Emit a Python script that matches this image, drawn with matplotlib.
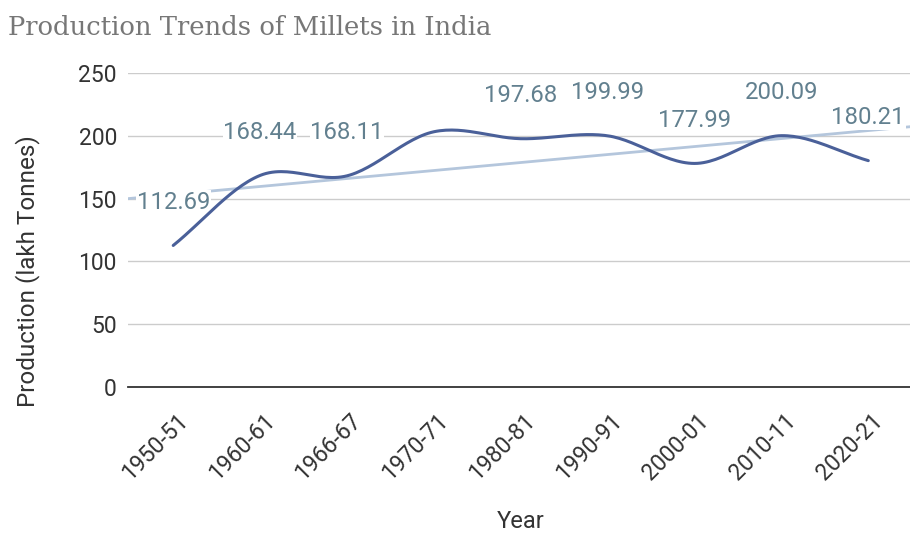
import numpy as np
import matplotlib.pyplot as plt

years = ['1950-51', '1960-61', '1966-67', '1970-71', '1980-81',
         '1990-91', '2000-01', '2010-11', '2020-21']
production = [112.69, 168.44, 168.11, 203.2, 197.68, 199.99, 177.99, 200.09, 180.21]
# the 1970-71 point has no label in the chart
labels = ['112.69', '168.44', '168.11', None, '197.68',
          '199.99', '177.99', '200.09', '180.21']
yticks = [0, 50, 100, 150, 200, 250]

plt.rcParams['font.family'] = ['Roboto', 'DejaVu Sans']

fig = plt.figure(figsize=(9.1, 5.35), dpi=100)
ax = fig.add_axes([0.1407, 0.2766, 0.8593, 0.587])

x = np.arange(len(years))
y = np.array(production)

# smooth curve (catmull-rom style hermite through the points)
tang = np.gradient(y)
xs, ys = [], []
for i in range(len(x) - 1):
    t = np.linspace(0, 1, 30)
    h00 = 2 * t**3 - 3 * t**2 + 1
    h10 = t**3 - 2 * t**2 + t
    h01 = -2 * t**3 + 3 * t**2
    h11 = t**3 - t**2
    xs.extend(x[i] + t)
    ys.extend(h00 * y[i] + h10 * tang[i] + h01 * y[i + 1] + h11 * tang[i + 1])

# linear trendline
m, b = np.polyfit(x, y, 1)
xt = np.array([-0.52, 8.48])
ax.plot(xt, m * xt + b, color='#b4c6dc', lw=2, zorder=2)

ax.plot(xs, ys, color='#4a6099', lw=2.2, zorder=3, solid_capstyle='round')

for xi, yi, lab in zip(x, y, labels):
    if lab is None:
        continue
    ax.annotate(lab, (xi, yi), xytext=(0, 31), textcoords='offset points',
                ha='center', va='center', fontsize=17.2, color='#62808f', zorder=2.5,
                bbox=dict(fc='white', ec='none', pad=0.5))

ax.set_xlim(-0.52, 8.48)
ax.set_ylim(0, 250)
ax.set_yticks(yticks)
ax.set_xticks(x)
ax.set_xticklabels([])
# rotated category labels, placed by hand below the axis
for xi, yr in zip(x, years):
    ax.annotate(yr, (xi, 0), xycoords=('data', 'axes fraction'),
                xytext=(8, -22), textcoords='offset points',
                rotation=45, ha='right', va='center', rotation_mode='anchor',
                fontsize=16.5, color='#333333', annotation_clip=False)
ax.tick_params(axis='y', length=0, pad=8, labelsize=16.5, labelcolor='#333333')
ax.tick_params(axis='x', length=0)
ax.grid(axis='y', color='#cccccc', lw=1)
ax.set_axisbelow(True)
for s in ['top', 'right', 'left']:
    ax.spines[s].set_visible(False)
ax.spines['bottom'].set_color('#333333')
ax.spines['bottom'].set_linewidth(1.3)

fig.text(521 / 910, 1 - 521 / 535, 'Year', fontsize=17, color='#333333',
         ha='center', va='center')
ax.set_ylabel('Production (lakh Tonnes)', fontsize=17.5, color='#333333')
ax.yaxis.set_label_coords(-0.113, 0.37)

fig.text(0.009, 0.935, 'Production Trends of Millets in India', fontsize=18.6,
         family='DejaVu Serif', color='#777777', va='baseline')

fig.savefig('out.png', dpi=100)
